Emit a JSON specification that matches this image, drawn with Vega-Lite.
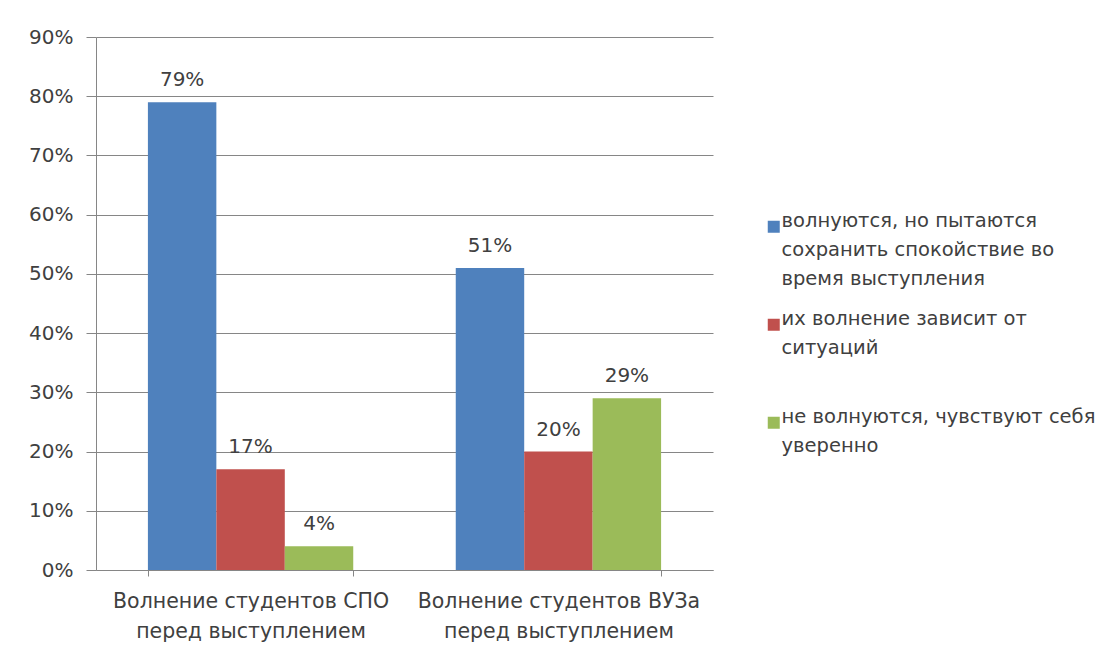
{
  "$schema": "https://vega.github.io/schema/vega-lite/v6.json",
  "width": 617,
  "height": 533,
  "autosize": {"type": "none"},
  "padding": {"left": 96, "top": 37, "right": 405, "bottom": 86},
  "background": "white",
  "data": {
    "values": [
      {"group": "Волнение студентов СПО\nперед выступлением", "series": "волнуются, но пытаются\nсохранить спокойствие во\nвремя выступления", "value": 0.79},
      {"group": "Волнение студентов СПО\nперед выступлением", "series": "их волнение зависит от\nситуаций\n", "value": 0.17},
      {"group": "Волнение студентов СПО\nперед выступлением", "series": "не волнуются, чувствуют себя\nуверенно", "value": 0.04},
      {"group": "Волнение студентов ВУЗа\nперед выступлением", "series": "волнуются, но пытаются\nсохранить спокойствие во\nвремя выступления", "value": 0.51},
      {"group": "Волнение студентов ВУЗа\nперед выступлением", "series": "их волнение зависит от\nситуаций\n", "value": 0.20},
      {"group": "Волнение студентов ВУЗа\nперед выступлением", "series": "не волнуются, чувствуют себя\nуверенно", "value": 0.29}
    ]
  },
  "encoding": {
    "x": {
      "field": "group", "type": "nominal", "sort": null,
      "scale": {"paddingInner": 0.333, "paddingOuter": 0.1686},
      "axis": {
        "title": null, "labelAngle": 0, "tickBand": "extent",
        "labelExpr": "split(datum.label, '\\n')",
        "labelLineHeight": 30, "labelPadding": 15, "tickSize": 6,
        "domainColor": "#868686", "tickColor": "#868686",
        "labelFontSize": 20.5, "labelFont": "DejaVu Sans", "labelColor": "#404040",
        "labelBaseline": "top", "labelLimit": 400
      }
    },
    "xOffset": {
      "field": "series", "type": "nominal",
      "sort": ["волнуются, но пытаются\nсохранить спокойствие во\nвремя выступления", "их волнение зависит от\nситуаций\n", "не волнуются, чувствуют себя\nуверенно"]
    },
    "y": {
      "field": "value", "type": "quantitative",
      "scale": {"domain": [0, 0.9], "nice": false},
      "axis": {
        "title": null, "format": ".0%", "values": [0, 0.1, 0.2, 0.3, 0.4, 0.5, 0.6, 0.7, 0.8, 0.9],
        "tickSize": 10, "labelPadding": 13, "gridColor": "#868686", "domainColor": "#868686", "tickColor": "#868686",
        "labelFontSize": 20, "labelFont": "DejaVu Sans", "labelColor": "#404040"
      }
    }
  },
  "layer": [
    {
      "mark": {"type": "bar"},
      "encoding": {
        "color": {
          "field": "series", "type": "nominal",
          "scale": {
            "domain": ["волнуются, но пытаются\nсохранить спокойствие во\nвремя выступления", "их волнение зависит от\nситуаций\n", "не волнуются, чувствуют себя\nуверенно"],
            "range": ["#4F81BD", "#C0504D", "#9BBB59"]
          },
          "legend": {
            "title": null, "orient": "none", "legendX": 668, "legendY": 180,
            "symbolType": "square", "symbolSize": 144, "symbolStrokeWidth": 0,
            "labelExpr": "split(datum.label, '\\n')",
            "labelFontSize": 19.5, "labelFont": "DejaVu Sans", "labelColor": "#404040",
            "labelLimit": 400, "rowPadding": 19, "labelOffset": -2, "labelBaseline": "alphabetic"
          }
        }
      }
    },
    {
      "mark": {"type": "text", "baseline": "bottom", "dy": -12, "fontSize": 20, "font": "DejaVu Sans", "color": "#404040"},
      "encoding": {
        "text": {"field": "value", "type": "quantitative", "format": ".0%"}
      }
    }
  ],
  "config": {
    "view": {"stroke": null},
    "style": {"guide-label": {"lineHeight": 29}}
  }
}
